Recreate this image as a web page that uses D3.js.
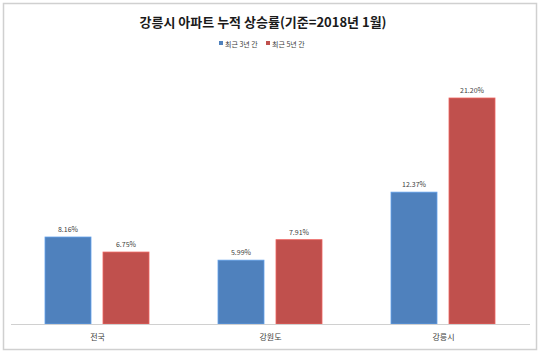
<!DOCTYPE html>
<html>
<head>
<meta charset="utf-8">
<script src="https://cdn.jsdelivr.net/npm/d3@7"></script>
<style>
  body { margin: 0; background: #fff; }
  svg { display: block; font-family: "Noto Sans CJK KR", "Noto Sans", sans-serif; }
</style>
</head>
<body>
<div class="grafico"></div>
<script>
var categories = ["전국", "강원도", "강릉시"];
var seriesNames = ["최근 3년 간", "최근 5년 간"];
var recent3 = [8.16, 5.99, 12.37];
var recent5 = [6.75, 7.91, 21.20];
var colors = ["#4F81BD", "#C0504D"];

var width = 540, height = 353;
var plot = { left: 11, right: 530, top: 57.5, bottom: 324 };

var svg = d3.select(".grafico").append("svg")
  .attr("width", width)
  .attr("height", height);

// chart area border
svg.append("rect")
  .attr("x", 3.5).attr("y", 3.5)
  .attr("width", 533).attr("height", 346)
  .attr("fill", "#fff")
  .attr("stroke", "#d0d0d0")
  .attr("stroke-width", 1.5);

svg.append("text")
  .attr("x", 263)
  .attr("y", 27)
  .attr("text-anchor", "middle")
  .style("font-size", "13px")
  .style("font-weight", "bold")
  .attr("fill", "#1a1a1a")
  .text("강릉시 아파트 누적 상승률(기준=2018년 1월)");

// legend
var legend = svg.append("g").selectAll("g")
  .data(seriesNames)
  .enter().append("g")
  .attr("transform", function (d, i) { return "translate(" + (219 + i * 47) + ",0)"; });
legend.append("rect")
  .attr("x", 0).attr("y", 41)
  .attr("width", 4).attr("height", 4)
  .attr("fill", function (d, i) { return colors[i]; });
legend.append("text")
  .attr("x", 6).attr("y", 47)
  .style("font-size", "7px")
  .attr("fill", "#404040")
  .text(function (d) { return d; });

var x0 = d3.scaleBand()
  .domain(categories)
  .range([plot.left, plot.right]);

var x1 = d3.scaleBand()
  .domain(seriesNames)
  .range([34, 138])
  .paddingInner(12 / 58);

var y = d3.scaleLinear()
  .domain([0, 25])
  .range([plot.bottom, plot.top]);

var rows = categories.map(function (c, i) {
  return { cat: c, vals: [recent3[i], recent5[i]] };
});

var groups = svg.append("g").selectAll("g")
  .data(rows)
  .enter().append("g")
  .attr("transform", function (d) { return "translate(" + x0(d.cat) + ",0)"; });

var bars = groups.selectAll("g")
  .data(function (d) {
    return d.vals.map(function (v, i) { return { name: seriesNames[i], value: v, i: i }; });
  })
  .enter().append("g");

bars.append("rect")
  .attr("x", function (d) { return x1(d.name); })
  .attr("y", function (d) { return y(d.value); })
  .attr("width", x1.bandwidth())
  .attr("height", function (d) { return y(0) - y(d.value); })
  .attr("fill", function (d) { return colors[d.i]; })
  .attr("stroke", function (d) { return d3.rgb(colors[d.i]).brighter(0.6); })
  .attr("stroke-width", 0.8);

bars.append("text")
  .attr("x", function (d) { return x1(d.name) + x1.bandwidth() / 2; })
  .attr("y", function (d) { return y(d.value) - 5; })
  .attr("text-anchor", "middle")
  .style("font-size", "7px")
  .attr("fill", "#404040")
  .text(function (d) { return d3.format(".2f")(d.value) + "%"; });

// category axis
svg.append("line")
  .attr("x1", plot.left).attr("x2", plot.right)
  .attr("y1", plot.bottom + 0.5).attr("y2", plot.bottom + 0.5)
  .attr("stroke", "#d0d0d0");

svg.append("g").selectAll("text")
  .data(categories)
  .enter().append("text")
  .attr("x", function (d) { return x0(d) + x0.bandwidth() / 2; })
  .attr("y", 340)
  .attr("text-anchor", "middle")
  .style("font-size", "8px")
  .attr("fill", "#404040")
  .text(function (d) { return d; });
</script>
</body>
</html>
